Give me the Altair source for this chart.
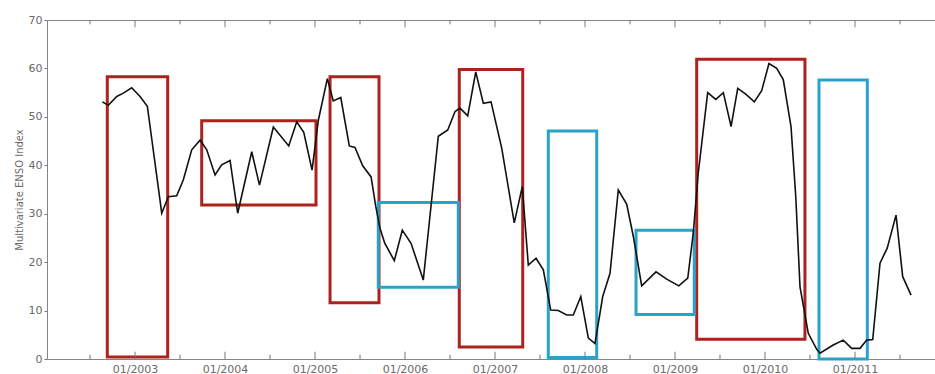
import altair as alt
import pandas as pd

# Monthly Multivariate ENSO Index (decimal year, value)
years = [2002.637, 2002.703, 2002.797, 2002.870, 2002.963, 2003.056, 2003.137, 2003.297,
         2003.370, 2003.463, 2003.537, 2003.630, 2003.723, 2003.797, 2003.889, 2003.963,
         2004.056, 2004.141, 2004.297, 2004.383, 2004.537, 2004.708, 2004.797, 2004.875,
         2004.967, 2005.037, 2005.137, 2005.203, 2005.286, 2005.381, 2005.444, 2005.530,
         2005.623, 2005.675, 2005.722, 2005.775, 2005.881, 2005.970, 2006.067, 2006.203,
         2006.370, 2006.475, 2006.556, 2006.611, 2006.697, 2006.786, 2006.870, 2006.956,
         2007.075, 2007.214, 2007.303, 2007.370, 2007.456, 2007.537, 2007.619, 2007.703,
         2007.797, 2007.870, 2007.953, 2008.037, 2008.111, 2008.197, 2008.278, 2008.370,
         2008.463, 2008.537, 2008.630, 2008.789, 2008.908, 2009.042, 2009.142, 2009.203,
         2009.258, 2009.363, 2009.453, 2009.537, 2009.623, 2009.697, 2009.786, 2009.881,
         2009.963, 2010.044, 2010.130, 2010.203, 2010.289, 2010.342, 2010.389, 2010.481,
         2010.575, 2010.611, 2010.758, 2010.870, 2010.963, 2011.056, 2011.130, 2011.197,
         2011.278, 2011.358, 2011.456, 2011.530, 2011.623]
mei = [53.1, 52.4, 54.2, 54.9, 56.0, 54.2, 52.2, 30.1,
       33.5, 33.7, 37.0, 43.2, 45.2, 43.2, 38.0, 40.1,
       41.0, 30.1, 42.8, 35.9, 47.9, 44.0, 49.0, 46.8,
       39.0, 49.3, 57.9, 53.3, 54.0, 44.0, 43.7, 39.9,
       37.6, 31.5, 27.0, 23.9, 20.3, 26.6, 23.9, 16.3,
       46.0, 47.3, 51.1, 51.8, 50.2, 59.3, 52.8, 53.1,
       43.5, 28.1, 35.6, 19.4, 20.8, 18.4, 10.1, 10.0,
       9.1, 9.1, 12.9, 4.3, 3.2, 12.9, 17.7, 34.9,
       32.0, 25.3, 15.1, 18.0, 16.5, 15.1, 16.7, 26.0,
       38.3, 55.0, 53.6, 55.0, 48.0, 55.9, 54.7, 53.1,
       55.4, 61.0, 60.0, 57.7, 48.0, 33.5, 14.9, 5.3,
       2.0, 1.2, 2.9, 3.9, 2.2, 2.2, 3.9, 4.0,
       19.8, 22.9, 29.7, 17.0, 13.2]

# Highlight boxes
box_start = [2002.692, 2003.741, 2005.167, 2006.603, 2009.241, 2005.703, 2007.592, 2008.567, 2010.600]
box_end = [2003.363, 2005.011, 2005.711, 2007.308, 2010.444, 2006.592, 2008.130, 2009.214, 2011.137]
box_low = [0.4, 31.8, 11.6, 2.5, 4.1, 14.8, 0.3, 9.2, 0.0]
box_high = [58.3, 49.2, 58.3, 59.8, 61.9, 32.3, 47.1, 26.6, 57.6]
box_kind = ["warm", "warm", "warm", "warm", "warm", "cold", "cold", "cold", "cold"]

# Axis ticks
label_years = [2003, 2004, 2005, 2006, 2007, 2008, 2009, 2010, 2011]
minor_ticks = [2002.5, 2003.5, 2004.5, 2005.5, 2006.5, 2007.5, 2008.5, 2009.5, 2010.5, 2011.5]
y_ticks = [0, 10, 20, 30, 40, 50, 60, 70]

series = pd.DataFrame({"year": years, "mei": mei})
boxes = pd.DataFrame({"x0": box_start, "x1": box_end, "lo": box_low, "hi": box_high, "kind": box_kind})

tick_rows = []
for t in label_years:
    tick_rows.append({"pos": t, "a": 0.0, "b": 1.5})
    tick_rows.append({"pos": t, "a": 70.0, "b": 68.5})
for t in minor_ticks:
    tick_rows.append({"pos": t, "a": 0.0, "b": 0.9})
    tick_rows.append({"pos": t, "a": 70.0, "b": 69.1})
ticks = pd.DataFrame(tick_rows)

xscale = alt.Scale(domain=[2002.022, 2011.889], nice=False, zero=False)
yscale = alt.Scale(domain=[0, 70], nice=False)
xaxis = alt.Axis(title="", values=label_years, labelExpr="'01/' + datum.value",
                 ticks=False, domain=False, grid=False, labelPadding=4)
yaxis = alt.Axis(title="Multivariate ENSO Index", values=y_ticks, format="d",
                 tickSize=3, tickColor="#777777", domain=False, grid=False,
                 labelPadding=2, titlePadding=4)

box_layer = alt.Chart(boxes).mark_rect(fillOpacity=0, strokeWidth=3, clip=False).encode(
    x=alt.X("x0:Q", scale=xscale, axis=xaxis),
    x2="x1:Q",
    y=alt.Y("lo:Q", scale=yscale, axis=yaxis),
    y2="hi:Q",
    stroke=alt.Stroke("kind:N", scale=alt.Scale(domain=["warm", "cold"], range=["#ad231b", "#2aa3c9"]), legend=None),
)

line_layer = alt.Chart(series).mark_line(color="#111111", strokeWidth=1.6).encode(
    x=alt.X("year:Q", scale=xscale, axis=xaxis),
    y=alt.Y("mei:Q", scale=yscale, axis=yaxis),
)

tick_layer = alt.Chart(ticks).mark_rule(color="#777777", strokeWidth=1).encode(
    x=alt.X("pos:Q", scale=xscale, axis=xaxis),
    y=alt.Y("a:Q", scale=yscale, axis=yaxis),
    y2="b:Q",
)

chart = alt.layer(box_layer, line_layer, tick_layer).properties(
    width=888, height=339,
    padding={"left": 47, "top": 20, "right": 0, "bottom": 15},
    autosize=alt.AutoSizeParams(type="none"),
    background="white",
).configure_view(
    stroke="#858585", strokeWidth=1
).configure_axis(
    labelFont="DejaVu Sans", labelFontSize=11, labelColor="#6a6a6a",
    titleFont="DejaVu Sans", titleFontSize=10, titleFontWeight="normal", titleColor="#6a6a6a",
)

chart.save("out.html", embed_options={"renderer": "svg", "actions": False})
